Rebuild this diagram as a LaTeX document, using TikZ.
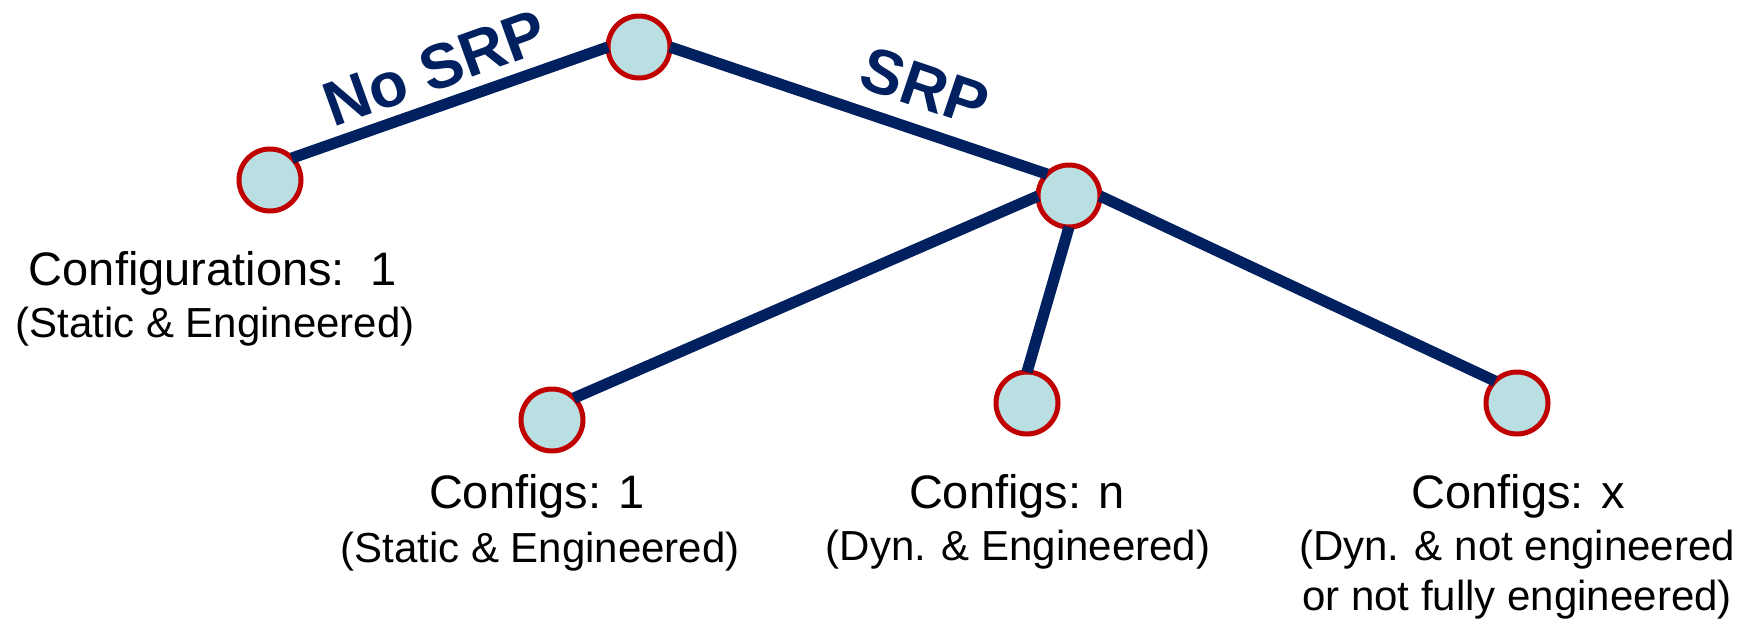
\documentclass[tikz,border=0pt]{standalone}
\usepackage{fontspec}
\setmainfont{Liberation Sans}
\definecolor{navy}{HTML}{002060}
\definecolor{ringred}{HTML}{C00000}
\definecolor{paleblue}{HTML}{B9DFE3}

\begin{document}
\begin{tikzpicture}[x=0.5pt,y=-0.5pt,
  state/.style={circle, draw=ringred, line width=2.5pt, fill=paleblue,
                minimum size=31pt, inner sep=0pt, outer sep=0pt},
  link/.style={draw=navy, line width=5.6pt},
  head/.style={font=\fontsize{23.5}{26}\selectfont, anchor=base, inner sep=0pt},
  sub/.style={font=\fontsize{21}{24}\selectfont, anchor=base, inner sep=0pt},
  tag/.style={font=\fontsize{31.5}{35}\selectfont\bfseries, text=navy, inner sep=0pt}]
\useasboundingbox (0,0) rectangle (1752,622);

% decision tree states
\node[state] (root) at (639,47) {};
\node[state] (left) at (270,180) {};
\node[state] (srp)  at (1069,196) {};
\node[state] (c1)   at (552,420) {};
\node[state] (c2)   at (1027,403) {};
\node[state] (c3)   at (1517,403) {};

% branches
\draw[link] (left.north east) -- (root.west);
\draw[link] (root.east) -- (srp.north west);
\draw[link] (srp.west) -- (c1.north east);
\draw[link] (srp.south) -- (c2.north);
\draw[link] (srp.east) -- (c3.north west);

% branch tags
\node[tag, rotate=19.8]  (nosrp)  at (435,68) {No SRP};
\node[tag, rotate=-18.7] (srptag) at (925,87) {SRP};

% leaf descriptions
\node[head] (topcfg) at (213,285) {Configurations:\ \ 1};
\node[sub]  (topsub) at (215,337) {(Static \& Engineered)};
\node[head] (c1cfg)  at (537,508) {Configs: 1};
\node[sub]  (c1sub)  at (540,562) {(Static \& Engineered)};
\node[head] (c2cfg)  at (1017,508) {Configs: n};
\node[sub]  (c2sub)  at (1018,560) {(Dyn. \& Engineered)};
\node[head] (c3cfg)  at (1518,508) {Configs: x};
\node[sub]  (c3sub)  at (1517,560) {(Dyn. \& not engineered};
\node[sub]  (c3sub2) at (1517,610) {or not fully engineered)};
\end{tikzpicture}
\end{document}
